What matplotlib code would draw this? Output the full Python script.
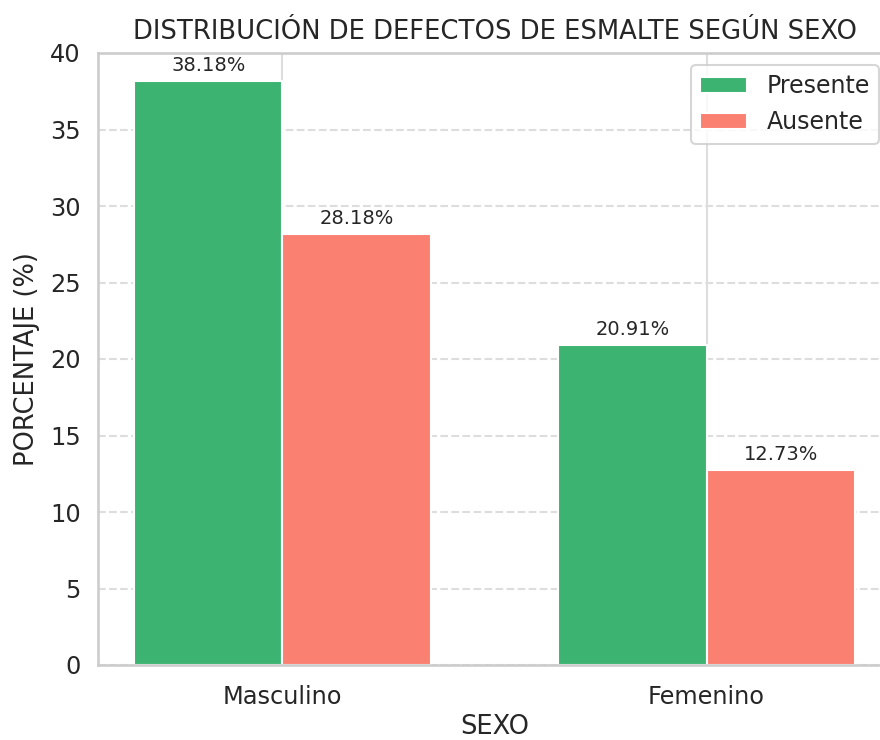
import matplotlib
matplotlib.use("Agg")
import matplotlib.pyplot as plt
import numpy as np
import seaborn as sns

categories = ["Masculino", "Femenino"]
series_names = ["Presente", "Ausente"]
presente = [38.18, 20.91]
ausente = [28.18, 12.73]
yticks = [0, 5, 10, 15, 20, 25, 30, 35, 40]

sns.set_theme(style="whitegrid", context="talk")
plt.rcParams['font.family'] = ['DejaVu Sans']

fig = plt.figure(figsize=(8.8, 7.4), dpi=100)
ax = fig.add_axes([98/880, 75/740, (891-98)/880, (665-53)/740])

x = np.arange(len(categories))
w = 0.35
colors = ["#3CB371", "#FA8072"]
b1 = ax.bar(x - w/2, presente, w, label=series_names[0], color=colors[0], edgecolor="white", linewidth=1.5)
b2 = ax.bar(x + w/2, ausente, w, label=series_names[1], color=colors[1], edgecolor="white", linewidth=1.5)

for bars, vals in ((b1, presente), (b2, ausente)):
    for rect, v in zip(bars, vals):
        ax.annotate(f"{v:.2f}%", (rect.get_x() + rect.get_width()/2, rect.get_height()),
                    xytext=(0, 4.5), textcoords="offset points", ha="center", va="bottom",
                    fontsize=14, color="#262626")

ax.set_ylim(0, 40)
ax.set_yticks(yticks)
ax.set_xticks(x)
ax.set_xticklabels(categories)
ax.tick_params(axis="both", labelsize=17.25)
ax.tick_params(axis="x", pad=5.5)
ax.yaxis.grid(True, linestyle="--", color="#dddddd", linewidth=1.5)
ax.xaxis.grid(True, linestyle="-", color="#dddddd", linewidth=1.5)
ax.set_axisbelow(True)

ax.set_title("DISTRIBUCIÓN DE DEFECTOS DE ESMALTE SEGÚN SEXO", fontsize=18.6, pad=10)
ax.set_xlabel("SEXO", fontsize=18.5, labelpad=3.5)
ax.set_ylabel("PORCENTAJE (%)", fontsize=18.5, labelpad=7)
ax.legend(loc="upper right", fontsize=17)

fig.savefig("out.png", dpi=100)
